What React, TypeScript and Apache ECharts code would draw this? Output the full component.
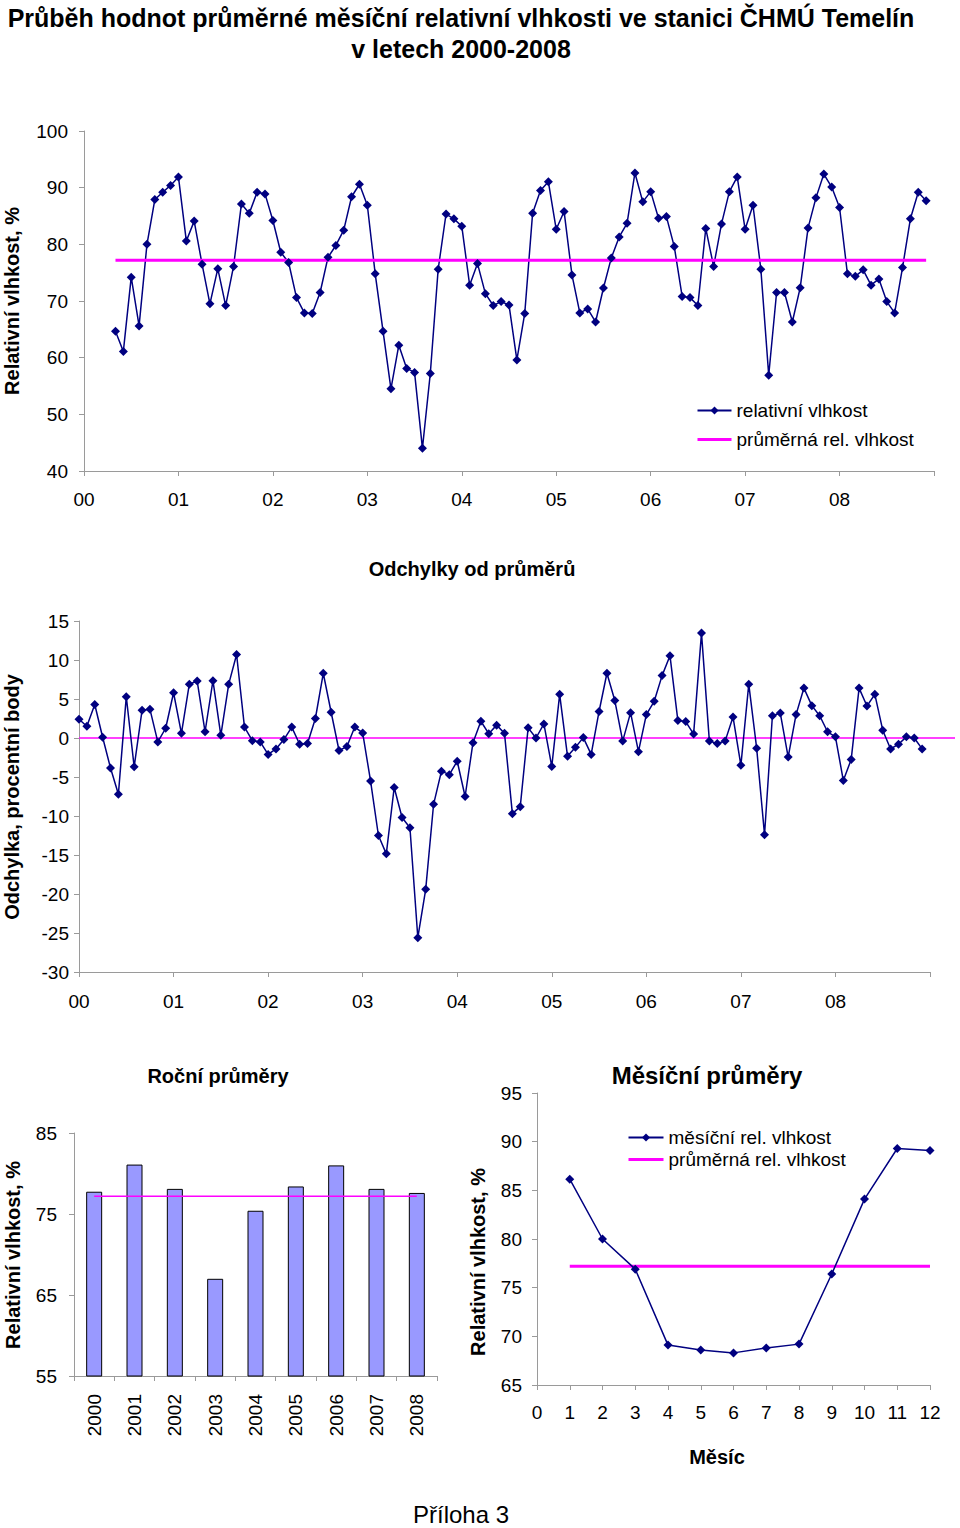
import React, { useEffect, useRef } from "react";
import * as echarts from "echarts";

const yearLabels = ["00", "01", "02", "03", "04", "05", "06", "07", "08"];
const monthCount = 108;
const rhStartMonth = 4;
const rhValues = [
  64.65, 61.1, 74.2, 65.6, 80.0, 87.9, 89.2, 90.4, 91.9, 80.6,
  84.1, 76.5, 69.5, 75.7, 69.2, 76.1, 87.1, 85.5, 89.2, 88.9,
  84.2, 78.6, 76.8, 70.6, 67.9, 67.8, 71.5, 77.7, 79.8, 82.5,
  88.4, 90.6, 86.9, 74.8, 64.65, 54.5, 62.2, 58.1, 57.4, 44.0,
  57.2, 75.6, 85.35, 84.5, 83.2, 72.8, 76.6, 71.3, 69.2, 69.9,
  69.3, 59.6, 67.8, 85.5, 89.5, 91.05, 82.65, 85.8, 74.6, 67.9,
  68.6, 66.3, 72.3, 77.6, 81.3, 83.7, 92.6, 87.5, 89.3, 84.6,
  84.9, 79.6, 70.8, 70.6, 69.2, 82.8, 76.1, 83.6, 89.3, 91.9,
  82.65, 86.9, 75.6, 56.9, 71.5, 71.5, 66.3, 72.35, 82.9, 88.2,
  92.4, 90.1, 86.5, 74.8, 74.35, 75.5, 72.8, 73.9, 69.9, 67.9,
  75.9, 84.5, 89.2, 87.7,
];
const rhMean = 77.2;
const deviations = [
  2.4, 1.5, 4.3, 0.1, -3.85, -7.2, 5.3, -3.7, 3.55, 3.7,
  -0.5, 1.25, 5.8, 0.6, 6.9, 7.3, 0.8, 7.35, 0.35, 6.9,
  10.7, 1.4, -0.35, -0.5, -2.1, -1.4, -0.2, 1.4, -0.8, -0.7,
  2.5, 8.3, 3.3, -1.6, -1.1, 1.4, 0.65, -5.5, -12.5, -14.85,
  -6.35, -10.2, -11.5, -25.6, -19.4, -8.5, -4.25, -4.7, -2.97, -7.5,
  -0.6, 2.15, 0.55, 1.65, 0.6, -9.7, -8.8, 1.3, 0.0, 1.8,
  -3.65, 5.6, -2.35, -1.2, 0.05, -2.1, 3.4, 8.3, 4.8, -0.4,
  3.25, -1.75, 3.0, 4.7, 8.0, 10.55, 2.25, 2.1, 0.5, 13.45,
  -0.4, -0.7, -0.4, 2.7, -3.5, 6.9, -1.3, -12.4, 2.85, 3.2,
  -2.45, 3.0, 6.4, 4.15, 2.85, 0.8, 0.15, -5.45, -2.75, 6.4,
  4.1, 5.6, 1.0, -1.4, -0.8, 0.15, 0.0, -1.4,
];
const years = ["2000", "2001", "2002", "2003", "2004", "2005", "2006", "2007", "2008"];
const yearlyMeans = [77.75, 81.1, 78.1, 67.0, 75.4, 78.4, 81.0, 78.1, 77.6];
const monthNumbers = [1, 2, 3, 4, 5, 6, 7, 8, 9, 10, 11, 12];
const monthlyMeans = [86.15, 80.0, 76.9, 69.1, 68.6, 68.3, 68.8, 69.2, 76.4, 84.1, 89.3, 89.1];

const FONT = "'Liberation Sans', Arial, Helvetica, sans-serif";
const NAVY = "#000080";
const MAGENTA = "#FF00FF";
const AXIS = "#9a9a9a";

export default function App() {
  const ref = useRef<HTMLDivElement>(null);

  useEffect(() => {
    if (!ref.current) return;
    const chart = echarts.init(ref.current, null, { renderer: "svg" });

    const axisLine = { show: true, lineStyle: { color: AXIS, width: 1 } };
    const axisTick = { show: true, length: 5, lineStyle: { color: AXIS } };
    const lbl = (size: number, margin: number, extra: any = {}) => ({
      color: "#000",
      fontSize: size,
      fontFamily: FONT,
      margin,
      ...extra,
    });
    const yearFmt = (v: number) =>
      v % 12 === 0 && v / 12 < yearLabels.length ? yearLabels[v / 12] : "";

    const rhData = rhValues.map((v, i) => [rhStartMonth + i, v]);
    const rhMeanData = rhValues.map((_, i) => [rhStartMonth + i, rhMean]);
    const devData = deviations.map((v, i) => [i, v]);

    const vName = (text: string, x: number, y: number) => ({
      type: "text",
      x,
      y,
      rotation: Math.PI / 2,
      style: {
        text,
        fill: "#000",
        font: `bold 20px ${FONT}`,
        align: "center",
        verticalAlign: "middle",
      },
    });

    const ttl = (text: string, left: number, top: number, size: number) => ({
      text,
      left,
      top,
      textAlign: "center",
      padding: 0,
      textStyle: { fontSize: size, fontWeight: "bold", fontFamily: FONT, color: "#000" },
    });

    const meanLegendItem = {
      name: "průměrná rel. vlhkost",
      itemStyle: { opacity: 0 },
      lineStyle: { color: MAGENTA, width: 3 },
    };
    const legendText = { fontSize: 19, fontFamily: FONT, color: "#000" };

    const option: any = {
      animation: false,
      backgroundColor: "#fff",
      title: [
        ttl("Průběh hodnot průměrné měsíční relativní vlhkosti ve stanici ČHMÚ Temelín", 461, 5, 25),
        ttl("v letech 2000-2008", 461, 36, 25),
        ttl("Odchylky od průměrů", 472, 559, 20),
        ttl("Roční průměry", 218, 1066, 20),
        ttl("Měsíční průměry", 707, 1063, 24),
      ],
      legend: [
        {
          data: [{ name: "relativní vlhkost" }, meanLegendItem],
          orient: "vertical",
          left: 696,
          top: 401,
          padding: 0,
          itemWidth: 34,
          itemHeight: 10,
          itemGap: 10,
          selectedMode: false,
          textStyle: legendText,
        },
        {
          data: [{ name: "měsíční rel. vlhkost" }, meanLegendItem],
          orient: "vertical",
          left: 627,
          top: 1128,
          padding: 0,
          itemWidth: 35,
          itemHeight: 10,
          itemGap: 3,
          selectedMode: false,
          textStyle: legendText,
        },
      ],
      grid: [
        { left: 84, top: 131, width: 850, height: 340 },
        { left: 79, top: 621, width: 851, height: 351 },
        { left: 79, top: 621, width: 876, height: 351 },
        { left: 74, top: 1133, width: 363, height: 243 },
        { left: 537, top: 1093, width: 393, height: 292 },
      ],
      xAxis: [
        {
          gridIndex: 0,
          type: "value",
          min: 0,
          max: monthCount,
          interval: 12,
          splitLine: { show: false },
          axisLine,
          axisTick,
          axisLabel: lbl(19, 19, { formatter: yearFmt }),
        },
        {
          gridIndex: 1,
          type: "value",
          min: 0,
          max: monthCount,
          interval: 12,
          splitLine: { show: false },
          axisLine: { ...axisLine, onZero: false },
          axisTick,
          axisLabel: lbl(19, 20, { formatter: yearFmt }),
        },
        { gridIndex: 2, type: "value", min: 0, max: 1, show: false },
        {
          gridIndex: 3,
          type: "category",
          data: years,
          axisLine,
          axisTick: { ...axisTick, alignWithLabel: false },
          axisLabel: lbl(19, 18, { rotate: 90 }),
        },
        {
          gridIndex: 4,
          type: "value",
          min: 0,
          max: 12,
          interval: 1,
          splitLine: { show: false },
          axisLine,
          axisTick,
          axisLabel: lbl(19, 18),
        },
      ],
      yAxis: [
        {
          gridIndex: 0,
          type: "value",
          min: 40,
          max: 100,
          interval: 10,
          splitLine: { show: false },
          axisLine,
          axisTick,
          axisLabel: lbl(19, 16),
        },
        {
          gridIndex: 1,
          type: "value",
          min: -30,
          max: 15,
          interval: 5,
          splitLine: { show: false },
          axisLine,
          axisTick,
          axisLabel: lbl(19, 10),
        },
        { gridIndex: 2, type: "value", min: -30, max: 15, show: false },
        {
          gridIndex: 3,
          type: "value",
          min: 55,
          max: 85,
          interval: 10,
          splitLine: { show: false },
          axisLine,
          axisTick,
          axisLabel: lbl(19, 17),
        },
        {
          gridIndex: 4,
          type: "value",
          min: 65,
          max: 95,
          interval: 5,
          splitLine: { show: false },
          axisLine,
          axisTick,
          axisLabel: lbl(19, 15),
        },
      ],
      series: [
        {
          name: "relativní vlhkost",
          type: "line",
          xAxisIndex: 0,
          yAxisIndex: 0,
          data: rhData,
          symbol: "diamond",
          symbolSize: 9,
          lineStyle: { color: NAVY, width: 1.5 },
          itemStyle: { color: NAVY },
        },
        {
          name: "průměrná rel. vlhkost",
          type: "line",
          xAxisIndex: 0,
          yAxisIndex: 0,
          data: rhMeanData,
          symbol: "none",
          lineStyle: { color: MAGENTA, width: 3 },
          itemStyle: { color: MAGENTA },
        },
        {
          name: "nulová odchylka",
          type: "line",
          xAxisIndex: 2,
          yAxisIndex: 2,
          data: [
            [0, 0],
            [1, 0],
          ],
          symbol: "none",
          lineStyle: { color: MAGENTA, width: 1.5 },
        },
        {
          name: "odchylka",
          type: "line",
          xAxisIndex: 1,
          yAxisIndex: 1,
          data: devData,
          symbol: "diamond",
          symbolSize: 9,
          lineStyle: { color: NAVY, width: 1.5 },
          itemStyle: { color: NAVY },
        },
        {
          name: "roční průměr",
          type: "bar",
          xAxisIndex: 3,
          yAxisIndex: 3,
          data: yearlyMeans,
          barWidth: 16,
          itemStyle: { color: "#9999FF", borderColor: "#000", borderWidth: 1 },
        },
        {
          name: "průměr",
          type: "line",
          xAxisIndex: 3,
          yAxisIndex: 3,
          data: years.map(() => rhMean),
          symbol: "none",
          lineStyle: { color: MAGENTA, width: 1.5 },
        },
        {
          name: "průměrná rel. vlhkost",
          type: "line",
          xAxisIndex: 4,
          yAxisIndex: 4,
          data: monthNumbers.map((m) => [m, rhMean]),
          symbol: "none",
          lineStyle: { color: MAGENTA, width: 3 },
          itemStyle: { color: MAGENTA },
        },
        {
          name: "měsíční rel. vlhkost",
          type: "line",
          xAxisIndex: 4,
          yAxisIndex: 4,
          data: monthNumbers.map((m, i) => [m, monthlyMeans[i]]),
          symbol: "diamond",
          symbolSize: 9,
          lineStyle: { color: NAVY, width: 1.5 },
          itemStyle: { color: NAVY },
        },
      ],
      graphic: [
        vName("Relativní vlhkost, %", 12, 301),
        vName("Odchylka, procentní body", 12, 797),
        vName("Relativní vlhkost, %", 13, 1255),
        vName("Relativní vlhkost, %", 478, 1262),
        {
          type: "text",
          x: 717,
          y: 1457,
          style: {
            text: "Měsíc",
            fill: "#000",
            font: `bold 20px ${FONT}`,
            align: "center",
            verticalAlign: "middle",
          },
        },
        {
          type: "text",
          x: 461,
          y: 1514,
          style: {
            text: "Příloha 3",
            fill: "#000",
            font: `24px ${FONT}`,
            align: "center",
            verticalAlign: "middle",
          },
        },
      ],
    };

    chart.setOption(option);
    return () => chart.dispose();
  }, []);

  return (
    <div
      ref={ref}
      style={{ position: "absolute", left: 0, top: 0, width: 960, height: 1528, background: "#fff" }}
    />
  );
}
